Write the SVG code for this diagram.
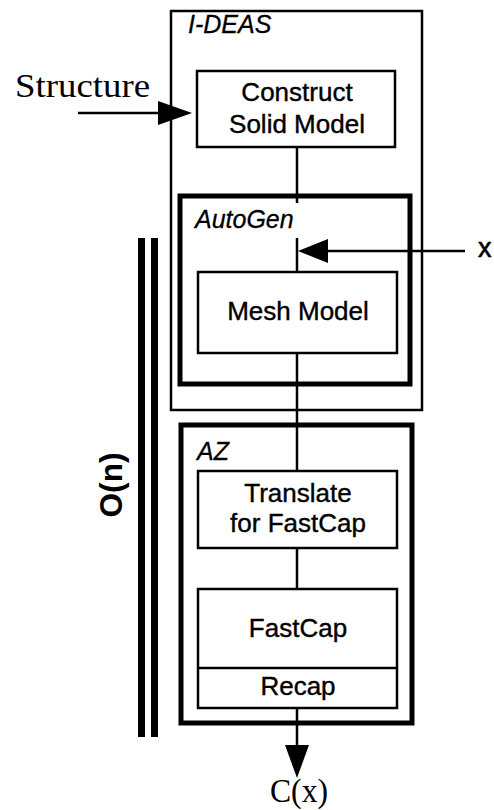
<svg xmlns="http://www.w3.org/2000/svg" width="494" height="810" viewBox="0 0 494 810">
<defs>
<style>
.box{fill:none;stroke:#000;stroke-width:2.5}
.thick{fill:none;stroke:#000;stroke-width:5}
.lbl{font-family:"Liberation Sans",Arial,sans-serif;font-size:26px;fill:#000;stroke:#000;stroke-width:0.4;text-anchor:middle}
.grp{font-family:"Liberation Sans",Arial,sans-serif;font-size:25px;font-style:italic;fill:#000;stroke:#000;stroke-width:0.3}
.ser{font-family:"Liberation Serif","Times New Roman",serif;font-size:33px;fill:#000}
.wire{stroke:#000;stroke-width:2.5;fill:none}
.head{fill:#000;stroke:none}
</style>
</defs>
<rect width="494" height="810" fill="#fff"/>
<g id="ideas">
<rect class="box" x="171" y="11" width="251" height="399"/>
<text class="grp" x="188" y="33">I-DEAS</text>
</g>
<g id="construct">
<rect class="box" x="197" y="71" width="198" height="76"/>
<text class="lbl" x="297" y="101">Construct</text>
<text class="lbl" x="297" y="133">Solid Model</text>
</g>
<g id="autogen">
<rect class="thick" x="180" y="196" width="230" height="188"/>
<text class="grp" x="195" y="228">AutoGen</text>
</g>
<g id="mesh">
<rect class="box" x="198" y="272" width="199" height="81"/>
<text class="lbl" x="298" y="320">Mesh Model</text>
</g>
<g id="az">
<rect class="thick" x="181" y="425" width="231" height="298"/>
<text class="grp" x="197" y="460">AZ</text>
</g>
<g id="translate">
<rect class="box" x="198" y="471" width="199" height="77"/>
<text class="lbl" x="298" y="502">Translate</text>
<text class="lbl" x="298" y="532">for FastCap</text>
</g>
<g id="fastcap">
<rect class="box" x="198" y="589" width="199" height="119"/>
<line class="wire" x1="198" y1="668" x2="397" y2="668"/>
<text class="lbl" x="298" y="637">FastCap</text>
<text class="lbl" x="298" y="695">Recap</text>
</g>
<g id="complexity">
<rect x="138" y="238" width="7" height="499" fill="#000"/>
<rect x="151" y="238" width="7" height="499" fill="#000"/>
<text transform="translate(122 485) rotate(-90)" style="font-family:'Liberation Sans',Arial,sans-serif;font-size:32px;font-weight:bold;text-anchor:middle" textLength="65" lengthAdjust="spacingAndGlyphs">O(n)</text>
</g>
<g id="labels">
<text class="ser" x="15" y="97" textLength="135" lengthAdjust="spacingAndGlyphs">Structure</text>
<text class="ser" x="299" y="802" text-anchor="middle" textLength="58" lengthAdjust="spacingAndGlyphs">C(x)</text>
<text x="478" y="257" style="font-family:'Liberation Sans',Arial,sans-serif;font-size:27px;stroke:#000;stroke-width:0.6">x</text>
</g>
<g id="connectors">
<line class="wire" x1="78" y1="113" x2="160" y2="113" stroke-width="3"/>
<polygon class="head" points="192,113 158,101 158,125"/>
<line class="wire" x1="297" y1="147" x2="297" y2="203"/>
<line class="wire" x1="297" y1="238" x2="297" y2="272"/>
<line class="wire" x1="326" y1="251" x2="465" y2="251" stroke-width="3"/>
<polygon class="head" points="298,251 328,239 328,263"/>
<line class="wire" x1="297" y1="353" x2="297" y2="471"/>
<line class="wire" x1="297" y1="548" x2="297" y2="589"/>
<line class="wire" x1="297" y1="708" x2="297" y2="748" stroke-width="3"/>
<polygon class="head" points="297,778 285,745 309,745"/>
</g>
</svg>
